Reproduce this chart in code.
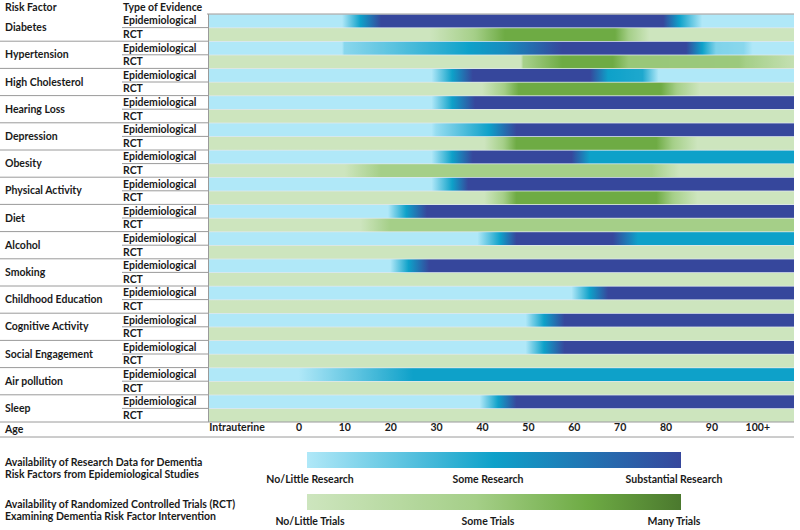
<!DOCTYPE html>
<html>
<head>
<meta charset="utf-8">
<script src="https://cdn.jsdelivr.net/npm/d3@7"></script>
<style>
    body { margin: 0; background: #fff; }
    text { font-family: Lato, "Open Sans", sans-serif; font-weight: 700; fill: #1a1a1a; }
</style>
</head>
<body>
<div id="chart"></div>
<script>
// Data
const factors = [
    'Diabetes', 'Hypertension', 'High Cholesterol', 'Hearing Loss', 'Depression',
    'Obesity', 'Physical Activity', 'Diet', 'Alcohol', 'Smoking',
    'Childhood Education', 'Cognitive Activity', 'Social Engagement', 'Air pollution', 'Sleep'
];
const evidenceTypes = ['Epidemiological', 'RCT'];

const tickAges = [-13.5, 0, 10, 20, 30, 40, 50, 60, 70, 80, 90, 100];
const tickLabels = ['Intrauterine', '0', '10', '20', '30', '40', '50', '60', '70', '80', '90', '100+'];

// [age, level] — level 0 = no/little, 0.5 = some, 1 = substantial
const epiProfiles = [
    [[-20, 0], [9.5, 0], [13.5, 0.5], [18, 1], [79.5, 1], [83, 0.5], [88, 0], [108, 0]],
    [[-20, 0], [9.5, 0], [10, 0.12], [32, 0.42], [45, 0.62], [57.5, 1], [84.5, 1], [88, 0.5], [91, 0.15], [97, 0.12], [99, 0], [108, 0]],
    [[-20, 0], [29, 0], [33.5, 0.5], [38, 1], [63.5, 1], [67.5, 0.5], [75, 0.45], [78.5, 0], [108, 0]],
    [[-20, 0], [29, 0], [33.5, 0.5], [38.5, 1], [108, 1]],
    [[-20, 0], [29, 0], [30, 0.08], [41.5, 0.5], [47.5, 1], [108, 1]],
    [[-20, 0], [29, 0], [33.5, 0.5], [38, 1], [59.5, 1], [63.5, 0.5], [108, 0.5]],
    [[-20, 0], [29, 0], [33.5, 0.5], [37, 1], [108, 1]],
    [[-20, 0], [19.5, 0], [23.5, 0.5], [28, 1], [108, 1]],
    [[-20, 0], [39, 0], [44, 0.5], [47.5, 1], [68.5, 1], [74, 0.5], [108, 0.5]],
    [[-20, 0], [20, 0], [24, 0.5], [28.5, 1], [108, 1]],
    [[-20, 0], [59.5, 0], [63.5, 0.5], [67.5, 1], [108, 1]],
    [[-20, 0], [49.5, 0], [53.5, 0.5], [58, 1], [108, 1]],
    [[-20, 0], [49.5, 0], [53.5, 0.5], [58, 1], [108, 1]],
    [[-20, 0], [0, 0], [25, 0.5], [108, 0.5]],
    [[-20, 0], [39.5, 0], [43.5, 0.5], [47.5, 1], [108, 1]],
];

const rctProfiles = [
    [[-20, 0], [28.5, 0], [45, 0.75], [69, 0.75], [76.5, 0], [108, 0]],
    [[-20, 0], [48.6, 0], [48.8, 0.42], [57.5, 0.75], [68.5, 0.75], [72, 0.52], [96, 0.5], [108, 0.1]],
    [[-20, 0], [40, 0], [48, 0.75], [79, 0.75], [87.5, 0], [108, 0]],
    [[-20, 0], [108, 0]],
    [[-20, 0], [40.5, 0], [47.5, 0.75], [78, 0.75], [87, 0], [108, 0]],
    [[-20, 0], [10, 0], [18, 0.45], [77, 0.45], [83, 0], [108, 0]],
    [[-20, 0], [40.5, 0], [47.5, 0.75], [78, 0.75], [87, 0], [108, 0]],
    [[-20, 0], [13.5, 0], [20, 0.45], [108, 0.45]],
    [[-20, 0], [108, 0]],
    [[-20, 0], [108, 0]],
    [[-20, 0], [108, 0]],
    [[-20, 0], [108, 0]],
    [[-20, 0], [108, 0]],
    [[-20, 0], [108, 0]],
    [[-20, 0], [108, 0]],
];

const epiLegendLabels = ['No/Little Research', 'Some Research', 'Substantial Research'];
const rctLegendLabels = ['No/Little Trials', 'Some Trials', 'Many Trials'];
const epiLegendTitle = ['Availability of Research Data for Dementia', 'Risk Factors from Epidemiological Studies'];
const rctLegendTitle = ['Availability of Randomized Controlled Trials (RCT)', 'Examining Dementia Risk Factor Intervention'];

// Dimensions
const dimensions = {
    width: 800,
    height: 530,
    plotLeft: 209,
    plotRight: 794,
    top: 14,
    rowH: 13.6,
    evidenceX: 123,
};

const rows = [];
factors.forEach((f, i) => {
    rows.push({ factor: f, type: 'Epidemiological', profile: epiProfiles[i], idx: i * 2 });
    rows.push({ factor: f, type: 'RCT', profile: rctProfiles[i], idx: i * 2 + 1 });
});
const bottom = dimensions.top + rows.length * dimensions.rowH;

const svg = d3
    .select('#chart')
    .append('svg')
    .attr('width', dimensions.width)
    .attr('height', dimensions.height)
    ;
const defs = svg.append('defs');

// Scales
const xScale = d3
    .scaleLinear()
    .domain([-19.5, 108])
    .range([dimensions.plotLeft, dimensions.plotRight])
    ;
const yScale = (i) => dimensions.top + i * dimensions.rowH;

const epiColor = d3
    .scaleLinear()
    .domain([0, 0.5, 1])
    .range(['#b0e8f8', '#0ea1c9', '#36479c'])
    ;
const rctColor = d3
    .scaleLinear()
    .domain([0, 0.45, 0.75, 1])
    .range(['#cde5be', '#a5cf88', '#6eab44', '#4b792e'])
    ;

const levelAt = (profile, age) => {
    for (let k = 1; k < profile.length; k++) {
        const [a0, l0] = profile[k - 1];
        const [a1, l1] = profile[k];
        if (age <= a1) return a1 === a0 ? l1 : l0 + (l1 - l0) * (age - a0) / (a1 - a0);
    }
    return profile[profile.length - 1][1];
};

// Row gradients
const sampleAges = d3.range(-19.5, 108.01, 0.5);
rows.forEach((r) => {
    const color = r.type === 'RCT' ? rctColor : epiColor;
    const grad = defs
        .append('linearGradient')
        .attr('id', `grad-${r.idx}`)
        .attr('gradientUnits', 'userSpaceOnUse')
        .attr('x1', xScale(-19.5))
        .attr('x2', xScale(108))
        .attr('y1', 0)
        .attr('y2', 0)
        ;
    grad
        .selectAll('stop')
        .data(sampleAges)
        .join('stop')
        .attr('offset', (a) => (a + 19.5) / 127.5)
        .attr('stop-color', (a) => color(levelAt(r.profile, a)))
        ;
});

// Bars
svg
    .append('rect')
    .attr('x', dimensions.plotLeft)
    .attr('y', dimensions.top)
    .attr('width', dimensions.plotRight - dimensions.plotLeft)
    .attr('height', bottom - dimensions.top)
    .attr('fill', '#dfe8ec')
    ;
svg
    .append('g')
    .selectAll('rect')
    .data(rows)
    .join('rect')
    .attr('x', dimensions.plotLeft)
    .attr('y', (d) => yScale(d.idx) + 0.6)
    .attr('width', dimensions.plotRight - dimensions.plotLeft)
    .attr('height', dimensions.rowH - 0.8)
    .attr('fill', (d) => `url(#grad-${d.idx})`)
    ;

// Table lines
const lines = svg.append('g').attr('stroke', '#9a9a9a').attr('stroke-width', 1);
lines
    .selectAll('.factor-line')
    .data(d3.range(1, factors.length))
    .join('line')
    .attr('x1', 0)
    .attr('x2', dimensions.plotLeft)
    .attr('y1', (i) => yScale(i * 2))
    .attr('y2', (i) => yScale(i * 2))
    ;
lines
    .selectAll('.type-line')
    .data(d3.range(factors.length))
    .join('line')
    .attr('x1', dimensions.evidenceX - 1)
    .attr('x2', dimensions.plotLeft)
    .attr('y1', (i) => yScale(i * 2 + 1))
    .attr('y2', (i) => yScale(i * 2 + 1))
    ;
lines.append('line')
    .attr('x1', dimensions.plotLeft - 2).attr('x2', dimensions.plotRight)
    .attr('y1', dimensions.top).attr('y2', dimensions.top);
lines.append('line')
    .attr('x1', dimensions.plotLeft - 0.5).attr('x2', dimensions.plotLeft - 0.5)
    .attr('y1', dimensions.top).attr('y2', bottom);
lines.append('line')
    .attr('x1', 0).attr('x2', dimensions.plotRight)
    .attr('y1', bottom).attr('y2', bottom);
lines.append('line')
    .attr('x1', 0).attr('x2', dimensions.plotRight)
    .attr('y1', bottom + 15).attr('y2', bottom + 15);

// Labels
const fs = 10.5;
svg.append('text').attr('x', 5).attr('y', 7).attr('dy', '0.35em').attr('font-size', fs).text('Risk Factor');
svg.append('text').attr('x', dimensions.evidenceX).attr('y', 7).attr('dy', '0.35em').attr('font-size', fs).text('Type of Evidence');

svg
    .append('g')
    .selectAll('text')
    .data(factors)
    .join('text')
    .attr('x', 5)
    .attr('y', (d, i) => yScale(i * 2 + 1))
    .attr('dy', '0.35em')
    .attr('font-size', fs)
    .text((d) => d)
    ;
svg
    .append('g')
    .selectAll('text')
    .data(rows)
    .join('text')
    .attr('x', dimensions.evidenceX)
    .attr('y', (d) => yScale(d.idx + 0.5))
    .attr('dy', '0.35em')
    .attr('font-size', fs)
    .text((d) => d.type)
    ;

// Age axis
svg.append('text').attr('x', 5).attr('y', bottom + 7.5).attr('dy', '0.35em').attr('font-size', fs).text('Age');
const xAxis = d3
    .axisBottom(xScale)
    .tickValues(tickAges)
    .tickFormat((d, i) => tickLabels[i])
    .tickSize(0)
    .tickPadding(0)
    ;
const xAxisGroup = svg
    .append('g')
    .attr('transform', `translate(0, ${bottom + 2})`)
    .call(xAxis)
    ;
xAxisGroup.select('.domain').remove();
xAxisGroup
    .selectAll('text')
    .attr('font-size', fs)
    .attr('font-family', null)
    .attr('fill', '#1a1a1a')
    ;

// Legends
const legendX0 = 307;
const legendX1 = 681;
const legends = [
    { title: epiLegendTitle, labels: epiLegendLabels, color: epiColor, y: 452, id: 'legend-epi' },
    { title: rctLegendTitle, labels: rctLegendLabels, color: rctColor, y: 494, id: 'legend-rct' },
];
const legendStops = d3.range(0, 1.001, 0.05);
legends.forEach((lg) => {
    const grad = defs
        .append('linearGradient')
        .attr('id', lg.id)
        ;
    grad
        .selectAll('stop')
        .data(legendStops)
        .join('stop')
        .attr('offset', (d) => d)
        .attr('stop-color', (d) => lg.color(d))
        ;
    svg
        .append('rect')
        .attr('x', legendX0)
        .attr('y', lg.y)
        .attr('width', legendX1 - legendX0)
        .attr('height', 16)
        .attr('fill', `url(#${lg.id})`)
        ;
    svg
        .append('g')
        .selectAll('text')
        .data(lg.title)
        .join('text')
        .attr('x', 5)
        .attr('y', (d, i) => lg.y + 10 + i * 12)
        .attr('dy', '0.35em')
        .attr('font-size', fs)
        .text((d) => d)
        ;
    svg
        .append('g')
        .selectAll('text')
        .data(lg.labels)
        .join('text')
        .attr('x', (d, i) => [310, 488, 674][i])
        .attr('y', lg.y + 27)
        .attr('dy', '0.35em')
        .attr('text-anchor', 'middle')
        .attr('font-size', fs)
        .text((d) => d)
        ;
});
</script>
</body>
</html>
